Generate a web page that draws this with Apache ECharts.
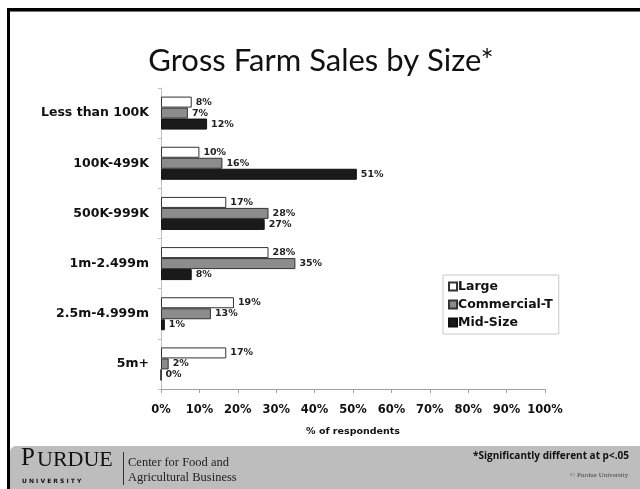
<!DOCTYPE html>
<html>
<head>
<meta charset="utf-8">
<script src="https://cdn.jsdelivr.net/npm/echarts@6/dist/echarts.min.js"></script>
<style>
  html, body { margin: 0; padding: 0; background: #fff; }
  #chart { width: 640px; height: 489px; }
</style>
</head>
<body>
<div id="chart"></div>
<script>
// Sales size classes, top to bottom
const categories = ['Less than 100K', '100K-499K', '500K-999K', '1m-2.499m', '2.5m-4.999m', '5m+'];
// Share of respondents (%) per farm group
const largeValues = [8, 10, 17, 28, 19, 17];
const commercialValues = [7, 16, 28, 35, 13, 2];
const midSizeValues = [12, 51, 27, 8, 1, 0];
const seriesNames = ['Large', 'Commercial-T', 'Mid-Size'];
const xTicks = [0, 10, 20, 30, 40, 50, 60, 70, 80, 90, 100];

const chart = echarts.init(document.getElementById('chart'), null, { renderer: 'canvas' });

const labelStyle = {
  show: true,
  position: 'right',
  distance: 4,
  formatter: p => p.value + '%',
  fontFamily: 'DejaVu Sans',
  fontWeight: 'bold',
  fontSize: 9.5,
  color: '#222'
};

function barSeries(name, data, fill, border) {
  return {
    name: name,
    type: 'bar',
    data: data,
    barWidth: 11,
    barGap: '0%',
    itemStyle: { color: fill, borderColor: border, borderWidth: 1 },
    label: labelStyle
  };
}

chart.setOption({
  animation: false,
  backgroundColor: '#fff',
  title: {
    text: 'Gross Farm Sales by Size*',
    left: 316,
    textAlign: 'center',
    top: 40,
    textStyle: { fontFamily: 'Lato', fontWeight: 'normal', fontSize: 31, color: '#111' }
  },
  legend: {
    data: seriesNames,
    orient: 'vertical',
    left: 443,
    top: 275,
    padding: [5, 6, 5, 5],
    itemGap: 5,
    itemWidth: 8,
    itemHeight: 8,
    icon: 'rect',
    borderColor: '#c8c8c8',
    borderWidth: 1,
    backgroundColor: '#fff',
    textStyle: { fontFamily: 'DejaVu Sans', fontWeight: 'bold', fontSize: 12.5, color: '#111', padding: [0, 0, 0, -4] }
  },
  grid: { left: 161, top: 88, width: 384, height: 301 },
  xAxis: {
    type: 'value',
    min: 0,
    max: 100,
    interval: 10,
    name: '% of respondents',
    nameLocation: 'middle',
    nameGap: 38,
    nameTextStyle: { fontFamily: 'DejaVu Sans', fontWeight: 'bold', fontSize: 9.5, color: '#111' },
    axisLine: { show: true, lineStyle: { color: '#a0a0a0', width: 1 } },
    axisTick: { show: true, length: 4, lineStyle: { color: '#a0a0a0' } },
    splitLine: { show: false },
    axisLabel: {
      margin: 15,
      fontFamily: 'DejaVu Sans',
      fontWeight: 'bold',
      fontSize: 11.5,
      color: '#111',
      formatter: v => xTicks.includes(v) ? v + '%' : ''
    }
  },
  yAxis: {
    type: 'category',
    data: categories,
    inverse: true,
    axisLine: { show: true, lineStyle: { color: '#c0c0c0', width: 1 } },
    axisTick: { show: true, length: 3, lineStyle: { color: '#c0c0c0' } },
    axisLabel: {
      margin: 12,
      fontFamily: 'DejaVu Sans',
      fontWeight: 'bold',
      fontSize: 12.5,
      color: '#111'
    }
  },
  series: [
    barSeries(seriesNames[0], largeValues, '#ffffff', '#333'),
    barSeries(seriesNames[1], commercialValues, '#8c8c8c', '#333'),
    barSeries(seriesNames[2], midSizeValues, '#1a1a1a', '#111')
  ],
  graphic: [
    // slide frame
    { type: 'rect', shape: { x: 7, y: 8, width: 640, height: 3 }, style: { fill: '#000' } },
    { type: 'rect', shape: { x: 7, y: 11, width: 640, height: 1 }, style: { fill: '#777' } },
    { type: 'rect', shape: { x: 7, y: 8, width: 3, height: 490 }, style: { fill: '#000' } },
    // footer band
    { type: 'rect', shape: { x: 10, y: 446, width: 640, height: 50, r: [6, 0, 0, 0] }, style: { fill: '#bdbdbd' } },
    { type: 'text', style: { x: 21, y: 446, text: 'P', fontFamily: 'Liberation Serif', fontSize: 25, fill: '#111' } },
    { type: 'text', style: { x: 37, y: 449, text: 'URDUE', fontFamily: 'Liberation Serif', fontSize: 22, fill: '#111' } },
    { type: 'text', style: { x: 22, y: 478, text: 'U N I V E R S I T Y', fontFamily: 'DejaVu Sans', fontWeight: 'bold', fontSize: 6, fill: '#111' } },
    { type: 'rect', shape: { x: 123, y: 452, width: 1, height: 33 }, style: { fill: '#333' } },
    { type: 'text', style: { x: 128, y: 456, text: 'Center for Food and', fontFamily: 'Liberation Serif', fontSize: 12.5, fill: '#222' } },
    { type: 'text', style: { x: 128, y: 471, text: 'Agricultural Business', fontFamily: 'Liberation Serif', fontSize: 12.5, fill: '#222' } },
    { type: 'text', style: { x: 473, y: 451, text: '*Significantly different at p<.05', fontFamily: 'Open Sans', fontWeight: 'bold', fontSize: 10, fill: '#111' } },
    { type: 'text', style: { x: 570, y: 472, text: '\u00a9 Purdue University', fontFamily: 'Liberation Serif', fontSize: 7, fill: '#444' } }
  ]
});
</script>
</body>
</html>
